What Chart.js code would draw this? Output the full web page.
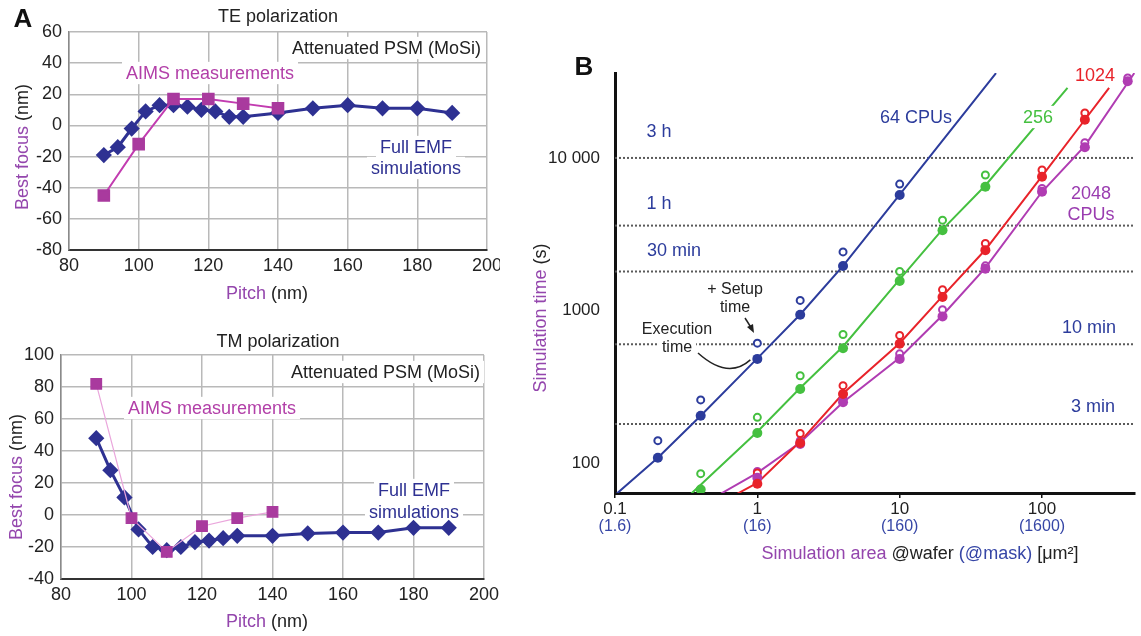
<!DOCTYPE html>
<html>
<head>
<meta charset="utf-8">
<title>Best focus and simulation time</title>
<script src="https://cdn.jsdelivr.net/npm/chart.js@4.4.1/dist/chart.umd.min.js"></script>
<style>
    body { margin: 0; background: #fff; width: 1141px; height: 636px; position: relative; overflow: hidden; }
    canvas { position: absolute; }
</style>
</head>
<body>
<canvas id="teChart" width="500" height="310" style="left:0;top:0"></canvas>
<canvas id="tmChart" width="500" height="316" style="left:0;top:320px"></canvas>
<canvas id="timeChart" width="611" height="560" style="left:530px;top:40px"></canvas>
<script>
// ---- panel A: best focus vs pitch ----
const tePitch = [90, 94, 98, 102, 106, 110, 114, 118, 122, 126, 130, 140, 150, 160, 170, 180, 190];
const teEmf = [-19, -14, -2, 9, 13, 13, 12, 10, 9, 5.5, 5.5, 8, 11, 13, 11, 11, 8];
const teAimsPitch = [90, 100, 110, 120, 130, 140];
const teAims = [-45, -12, 17, 17, 14, 11];
const teFocusTicks = [-80, 60];

const tmPitch = [90, 94, 98, 102, 106, 110, 114, 118, 122, 126, 130, 140, 150, 160, 170, 180, 190];
const tmEmf = [48, 28, 11, -9, -20, -22, -20, -17, -16, -14.5, -13, -13, -11.5, -11, -11, -8, -8];
const tmAimsPitch = [90, 100, 110, 120, 130, 140];
const tmAims = [82, -2, -23, -7, -2, 2];
const tmFocusTicks = [-40, 100];

const pitchRange = [80, 200];

// ---- panel B: simulation time vs area ----
const cpus64Area = [0.2, 0.4, 1, 2, 4, 10];
const cpus64Exec = [108, 204, 481, 938, 1955, 5710];
const cpus64Total = [140, 259, 610, 1164, 2421, 6740];
const cpus64FitArea = [0.103, 0.2, 0.4, 1, 2, 4, 10, 47.5];
const cpus64FitTime = [63, 108, 204, 485, 940, 1960, 5750, 36000];

const cpus256Area = [0.4, 1, 2, 4, 10, 20, 40];
const cpus256Exec = [67, 157, 305, 565, 1560, 3360, 6470];
const cpus256Total = [85, 199, 373, 695, 1800, 3910, 7730];
const cpus256FitArea = [0.344, 1, 2, 4, 10, 20, 40, 151];
const cpus256FitTime = [63, 160, 310, 580, 1600, 3400, 6600, 28800];

const cpus1024Area = [1, 2, 4, 10, 20, 40, 100, 200];
const cpus1024Exec = [73, 135, 283, 604, 1224, 2485, 7530, 17800];
const cpus1024Total = [86, 156, 321, 686, 1368, 2750, 8340, 19700];
const cpus1024FitArea = [0.726, 1, 2, 4, 10, 20, 40, 100, 200, 296];
const cpus1024FitTime = [63, 74, 138, 285, 610, 1240, 2500, 7600, 17800, 28800];

const cpus2048Area = [1, 2, 4, 10, 20, 40, 100, 200, 400];
const cpus2048Exec = [80, 133, 250, 481, 914, 1880, 6000, 11760, 31800];
const cpus2048Total = [88, 140, 262, 519, 1012, 1960, 6300, 12600, 33500];
const cpus2048FitArea = [0.556, 1, 2, 4, 10, 20, 40, 100, 200, 445];
const cpus2048FitTime = [63, 86, 136, 250, 490, 930, 1900, 6000, 12000, 36000];

const refLines = [180, 600, 1800, 3600, 10000];
const areaRange = [0.1, 450];
const timeRange = [63.5, 36060];
const xTickVals = [0.1, 1, 10, 100];
const xTickLabels = ['0.1', '1', '10', '100'];
const xMaskLabels = ['(1.6)', '(16)', '(160)', '(1600)'];
const yTickVals = [100, 1000, 10000];
const yTickLabels = ['100', '1000', '10 000'];

const FONT = "'Liberation Sans', Arial, sans-serif";
const DARK = '#222';
const NAVY = '#2e3192';
const PINK = '#b23fa8';
const PURPLE = '#9446ad';
const BLUE_B = '#2c3c9c';
const GREEN_B = '#45c040';
const RED_B = '#e8232a';
const MAG_B = '#b03cb2';

function pts(xs, ys) {
    return xs.map((x, i) => ({ x: x, y: ys[i] }));
}

function drawItems(chart, items) {
    const ctx = chart.ctx;
    items.forEach(it => {
        const size = it.size || 18;
        ctx.save();
        ctx.font = (it.bold ? 'bold ' : '') + size + 'px ' + FONT;
        ctx.textBaseline = 'middle';
        ctx.textAlign = 'left';
        const widths = it.parts.map(p => ctx.measureText(p[0]).width);
        const total = widths.reduce((a, b) => a + b, 0);
        ctx.translate(it.x, it.y);
        if (it.rot) ctx.rotate(-Math.PI / 2);
        let x0 = it.align === 'right' ? -total : (it.align === 'left' ? 0 : -total / 2);
        if (it.bg) {
            ctx.fillStyle = '#fff';
            ctx.fillRect(x0 - 4, -size * 0.62, total + 8, size * 1.24);
        }
        it.parts.forEach((p, i) => {
            ctx.fillStyle = p[1];
            ctx.fillText(p[0], x0, 1);
            x0 += widths[i];
        });
        ctx.restore();
    });
}

function textLayer(items) {
    return {
        id: 'textLayer',
        beforeDatasetsDraw(chart) { drawItems(chart, items.filter(i => i.under)); },
        afterDatasetsDraw(chart) { drawItems(chart, items.filter(i => !i.under)); }
    };
}

/**
 * Best focus chart (panel A)
 */
function focusChart(id, emfX, emfY, aimsX, aimsY, yRange, box, aimsLine, items) {
    const tick = { font: { family: FONT, size: 18 }, color: DARK };
    return new Chart(document.getElementById(id), {
        type: 'line',
        data: {
            datasets: [
                {
                    data: pts(aimsX, aimsY),
                    borderColor: aimsLine.color,
                    borderWidth: aimsLine.width,
                    pointStyle: 'rect',
                    pointRadius: 7.5,
                    pointBackgroundColor: '#a93a9e',
                    pointBorderColor: '#a93a9e',
                    tension: 0,
                },
                {
                    data: pts(emfX, emfY),
                    borderColor: NAVY,
                    borderWidth: 3,
                    pointStyle: 'rectRot',
                    pointRadius: 6,
                    pointBackgroundColor: NAVY,
                    pointBorderColor: NAVY,
                    tension: 0,
                },
            ],
        },
        options: {
            responsive: false,
            animation: false,
            events: [],
            layout: { padding: { top: box.top, right: box.right, left: 0, bottom: 0 } },
            plugins: { legend: { display: false }, tooltip: { enabled: false } },
            scales: {
                x: {
                    type: 'linear',
                    min: pitchRange[0],
                    max: pitchRange[1],
                    afterFit(s) { s.height = box.xh; s.paddingLeft = 0; s.paddingRight = 0; },
                    ticks: Object.assign({ stepSize: 20, padding: 5, maxRotation: 0 }, tick),
                    grid: { color: '#b9b9b9', lineWidth: 1.5, drawTicks: false },
                    border: { color: '#333', width: 2 },
                },
                y: {
                    min: yRange[0],
                    max: yRange[1],
                    afterFit(s) { s.width = box.left; },
                    ticks: Object.assign({ stepSize: 20, padding: 7 }, tick),
                    grid: { color: '#b9b9b9', lineWidth: 1.5, drawTicks: false },
                    border: { color: '#8a8a8a', width: 1.5 },
                },
            },
        },
        plugins: [textLayer(items)],
    });
}

focusChart('teChart', tePitch, teEmf, teAimsPitch, teAims, teFocusTicks,
    { top: 32, right: 13, left: 69, xh: 60 },
    { color: '#c23cb0', width: 2 },
    [
        { x: 23, y: 19, parts: [['A', '#111']], size: 26, bold: true },
        { x: 278, y: 16, parts: [['TE polarization', DARK]] },
        { x: 481, y: 48, parts: [['Attenuated PSM (MoSi)', DARK]], align: 'right', under: true, bg: true },
        { x: 210, y: 73, parts: [['AIMS measurements', PINK]], under: true, bg: true },
        { x: 416, y: 147, parts: [['Full EMF', NAVY]], under: true, bg: true },
        { x: 416, y: 168, parts: [['simulations', NAVY]], under: true, bg: true },
        { x: 22, y: 147, parts: [['Best focus', PURPLE], [' (nm)', DARK]], rot: true },
        { x: 267, y: 293, parts: [['Pitch', PURPLE], [' (nm)', DARK]] },
    ]);

focusChart('tmChart', tmPitch, tmEmf, tmAimsPitch, tmAims, tmFocusTicks,
    { top: 35, right: 16, left: 61, xh: 57 },
    { color: '#eaa6dc', width: 1.2 },
    [
        { x: 278, y: 21, parts: [['TM polarization', DARK]] },
        { x: 480, y: 52, parts: [['Attenuated PSM (MoSi)', DARK]], align: 'right', under: true, bg: true },
        { x: 212, y: 88, parts: [['AIMS measurements', PINK]], under: true, bg: true },
        { x: 414, y: 170, parts: [['Full EMF', NAVY]], under: true, bg: true },
        { x: 414, y: 192, parts: [['simulations', NAVY]], under: true, bg: true },
        { x: 16, y: 157, parts: [['Best focus', PURPLE], [' (nm)', DARK]], rot: true },
        { x: 267, y: 301, parts: [['Pitch', PURPLE], [' (nm)', DARK]] },
    ]);

/**
 * Simulation time chart (panel B)
 */
function seriesSets(color, area, exec, total, fitArea, fitTime) {
    return [
        {
            data: pts(area, exec), showLine: false, order: 1,
            pointRadius: 5, pointBackgroundColor: color, pointBorderWidth: 0,
        },
        {
            data: pts(area, total), showLine: false, order: 2,
            pointRadius: 3.5, pointBackgroundColor: '#fff', pointBorderColor: color, pointBorderWidth: 2,
        },
        {
            data: pts(fitArea, fitTime), order: 3, pointRadius: 0,
            borderColor: color, borderWidth: 2, tension: 0,
        },
    ];
}

const refSets = refLines.map(r => ({
    data: pts(areaRange, [r, r]), order: 5, pointRadius: 0,
    borderColor: '#5a5a5a', borderWidth: 2, borderDash: [2, 2],
}));

const bItems = [
    { x: 54, y: 27, parts: [['B', '#111']], size: 26, bold: true },
    { x: 129, y: 91, parts: [['3 h', BLUE_B]] },
    { x: 129, y: 163, parts: [['1 h', BLUE_B]] },
    { x: 144, y: 210, parts: [['30 min', BLUE_B]] },
    { x: 559, y: 287, parts: [['10 min', BLUE_B]] },
    { x: 563, y: 366, parts: [['3 min', BLUE_B]] },
    { x: 386, y: 77, parts: [['64 CPUs', BLUE_B]] },
    { x: 508, y: 77, parts: [['256', GREEN_B]], bg: true },
    { x: 565, y: 35, parts: [['1024', RED_B]] },
    { x: 561, y: 153, parts: [['2048', '#9a3cb0']] },
    { x: 561, y: 174, parts: [['CPUs', '#9a3cb0']] },
    { x: 205, y: 249, parts: [['+ Setup', DARK]], size: 16 },
    { x: 205, y: 267, parts: [['time', DARK]], size: 16 },
    { x: 147, y: 289, parts: [['Execution', DARK]], size: 16, bg: true },
    { x: 147, y: 307, parts: [['time', DARK]], size: 16, bg: true },
    { x: 10, y: 278, parts: [['Simulation time', PURPLE], [' (s)', DARK]], rot: true },
    { x: 390, y: 513, parts: [['Simulation area ', PURPLE], ['@wafer ', DARK], ['(@mask) ', '#3646a6'], ['[\u03bcm\u00b2]', DARK]] },
];

const bExtras = {
    id: 'bExtras',
    afterDatasetsDraw(chart) {
        const ctx = chart.ctx;
        const sx = chart.scales.x;
        const sy = chart.scales.y;
        // mask-scale tick labels under the wafer ones
        ctx.save();
        ctx.font = '16px ' + FONT;
        ctx.fillStyle = '#3646a6';
        ctx.textAlign = 'center';
        ctx.textBaseline = 'middle';
        xTickVals.forEach((v, i) => ctx.fillText(xMaskLabels[i], sx.getPixelForValue(v), 487));
        // arrows for execution / setup time
        const px = sx.getPixelForValue(cpus64Area[2]);
        const py = sy.getPixelForValue(cpus64Exec[2]);
        ctx.strokeStyle = '#222';
        ctx.lineWidth = 1.5;
        ctx.beginPath();
        ctx.moveTo(168, 313);
        ctx.quadraticCurveTo(198, 340, px - 7, py + 1);
        ctx.stroke();
        ctx.beginPath();
        ctx.moveTo(215, 278);
        ctx.lineTo(222, 289);
        ctx.stroke();
        ctx.beginPath();
        ctx.moveTo(224, 293);
        ctx.lineTo(217, 287);
        ctx.lineTo(223, 284);
        ctx.closePath();
        ctx.fillStyle = '#222';
        ctx.fill();
        ctx.restore();
    },
};

new Chart(document.getElementById('timeChart'), {
    type: 'line',
    data: {
        datasets: [].concat(
            seriesSets(BLUE_B, cpus64Area, cpus64Exec, cpus64Total, cpus64FitArea, cpus64FitTime),
            seriesSets(GREEN_B, cpus256Area, cpus256Exec, cpus256Total, cpus256FitArea, cpus256FitTime),
            seriesSets(RED_B, cpus1024Area, cpus1024Exec, cpus1024Total, cpus1024FitArea, cpus1024FitTime),
            seriesSets(MAG_B, cpus2048Area, cpus2048Exec, cpus2048Total, cpus2048FitArea, cpus2048FitTime),
            refSets
        ),
    },
    options: {
        responsive: false,
        animation: false,
        events: [],
        layout: { padding: { top: 33, right: 0, left: 0, bottom: 0 } },
        plugins: { legend: { display: false }, tooltip: { enabled: false } },
        scales: {
            x: {
                type: 'logarithmic',
                min: areaRange[0],
                max: areaRange[1],
                afterBuildTicks(s) { s.ticks = xTickVals.map(v => ({ value: v })); },
                afterFit(s) { s.height = 107; s.paddingLeft = 0; s.paddingRight = 0; },
                ticks: {
                    callback: (v, i) => xTickLabels[i],
                    font: { family: FONT, size: 17 }, color: DARK,
                    padding: 1, maxRotation: 0, autoSkip: false,
                },
                grid: { display: true, drawOnChartArea: false, drawTicks: true, tickLength: 5, color: '#111', lineWidth: 1.5 },
                border: { color: '#111', width: 3 },
            },
            y: {
                type: 'logarithmic',
                min: timeRange[0],
                max: timeRange[1],
                afterBuildTicks(s) { s.ticks = yTickVals.map(v => ({ value: v })); },
                afterFit(s) { s.width = 85; },
                ticks: {
                    callback: (v, i) => yTickLabels[i],
                    font: { family: FONT, size: 17 }, color: DARK,
                    padding: 15, autoSkip: false,
                },
                grid: { display: true, drawOnChartArea: false, drawTicks: false },
                border: { color: '#111', width: 3 },
            },
        },
    },
    plugins: [textLayer(bItems), bExtras],
});
</script>
</body>
</html>
